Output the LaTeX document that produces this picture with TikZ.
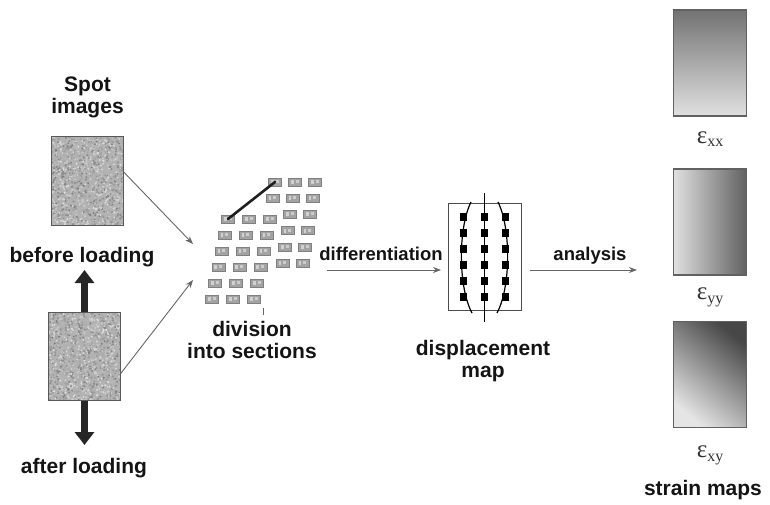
\documentclass[tikz,border=0pt]{standalone}
\usepackage{fontspec}
\setmainfont{Liberation Sans}
\newfontfamily\epsfont{Liberation Serif}
\usetikzlibrary{arrows.meta}

% strain component label: serif epsilon with a lowered index
\newcommand{\straincomp}[1]{{\epsfont\fontsize{25}{27}\selectfont ε\raisebox{-0.32ex}{\fontsize{16}{18}\selectfont #1}}}

\begin{document}
\begin{tikzpicture}[x=1pt,y=-1pt,
  lbl/.style={font=\bfseries\fontsize{21}{22}\selectfont, align=center, inner sep=0pt, text=black!92},
  arrlbl/.style={font=\bfseries\fontsize{18.5}{20}\selectfont, inner sep=0pt, text=black!92},
  spotbox/.style={fill=black!30, minimum width=72pt, minimum height=88pt, inner sep=0pt},
  spotframe/.style={draw=black!65, line width=1.2pt},
  thinarrow/.style={draw=black!60, line width=0.9pt, -{Stealth[length=8pt,width=6pt]}},
  loadarrow/.style={draw=black!85, line width=7pt, -{Triangle[length=13pt,width=19pt]}},
  cell/.style={fill=black!36, draw=black!50, line width=0.5pt, minimum width=13pt, minimum height=8pt, inner sep=0pt,
    path picture={
      \fill[black!18] ([xshift=2.5pt,yshift=-2pt]path picture bounding box.north west) rectangle ++(2.5pt,-4pt);
      \fill[black!20] ([xshift=7pt,yshift=-2pt]path picture bounding box.north west) rectangle ++(3pt,-3pt);
    }},
  dmark/.style={fill=black, minimum size=7.5pt, inner sep=0pt},
  strainbox/.style={draw=black!62, line width=1.5pt, minimum width=73pt, minimum height=106pt, inner sep=0pt},
  eps/.style={inner sep=0pt, text=black!80}
]
\useasboundingbox (0,0) rectangle (770,505);
\pgfmathsetseed{4242}

% ---------- spot images ----------
\node[lbl] (title) at (87.5,97) {Spot\\images};

\node[spotbox] (spot1) at (87.5,181) {};
\node[spotbox] (spot2) at (84.5,356.5) {};

\foreach \bx/\by in {51.5/137, 48.5/312.5}{
  \begin{scope}
    \clip (\bx,\by) rectangle ++(72,88);
    \foreach \i in {1,...,1300}{
      \pgfmathtruncatemacro{\gl}{12+40*rnd}
      \fill[black!\gl] ({\bx+72*rnd},{\by+88*rnd}) circle (1.05);
    }
  \end{scope}
}
\draw[spotframe] (spot1.south west) rectangle (spot1.north east);
\draw[spotframe] (spot2.south west) rectangle (spot2.north east);

\node[lbl] (before) at (82,257) {before loading};
\node[lbl] (after) at (84,468) {after loading};

% loading direction
\coordinate (uptip) at (84.5,270);
\coordinate (downtip) at (84.5,445);
\draw[loadarrow] (spot2.north) -- (uptip);
\draw[loadarrow] (spot2.south) -- (downtip);

% ---------- division into sections ----------
% back grid
\foreach \r in {0,...,5}{
  \foreach \c in {0,1,2}{
    \ifnum\r>1 \ifnum\c=0 \else
      \node[cell] (R\r\c) at ({275-2.5*\r+20*\c},{182+16.2*\r}) {};
    \fi \else
      \node[cell] (R\r\c) at ({275-2.5*\r+20*\c},{182+16.2*\r}) {};
    \fi
  }
}
% front grid
\foreach \r in {0,...,5}{
  \foreach \c in {0,1,2}{
    \node[cell] (L\r\c) at ({228-3.2*\r+21*\c},{219+16*\r}) {};
  }
}
\draw[line width=2.6pt, black!88, line cap=round] (L00.center) -- (R00.center);
\draw[black!60, line width=0.6pt] (263,308) -- (263,315);

\coordinate (gin1) at (193,244);
\coordinate (gin2) at (193,280);
\draw[thinarrow] ([yshift=9pt]spot1.east) -- (gin1);
\draw[thinarrow] ([yshift=-17pt]spot2.east) -- (gin2);

\node[lbl] (division) at (252,340) {division\\into sections};

% ---------- displacement map ----------
\node[draw=black!70, line width=1pt, minimum width=73pt, minimum height=107pt, inner sep=0pt] (dmap) at (484.5,256.5) {};
\draw[line width=1.4pt] (484.5,193) -- (484.5,322);
\draw[line width=1.2pt] (471,202) .. controls (458,228) and (458,287) .. (472,313);
\draw[line width=1.2pt] (498,202) .. controls (511,228) and (511,287) .. (497,313);
\foreach \yy in {217,233,249,265,281,297}{
  \foreach \xx in {463.5,484.5,505.5}{
    \node[dmark] at (\xx,\yy) {};
  }
}
\node[lbl] (dlabel) at (483,361) {displacement\\map};

\coordinate (dstart) at (327,270);
\coordinate (dend) at (441,270);
\draw[thinarrow] (dstart) -- (dend);
\node[arrlbl] (difflbl) at (381,254) {differentiation};

\coordinate (astart) at (530,270);
\coordinate (aend) at (637,270);
\draw[thinarrow] (astart) -- (aend);
\node[arrlbl] (analbl) at (590,256) {analysis};

% ---------- strain maps ----------
\node[strainbox, top color=black!55, bottom color=black!12] (sxx) at (710,63) {};
\node[strainbox, left color=black!12, right color=black!62] (syy) at (710,222) {};
\node[strainbox, top color=black!72, bottom color=black!10, shading angle=-40] (sxy) at (710,374.5) {};

\node[eps] (lxx) at (710,139) {\straincomp{xx}};
\node[eps] (lyy) at (710,297) {\straincomp{yy}};
\node[eps] (lxy) at (710,455) {\straincomp{xy}};
\node[lbl] (strain) at (703,490) {strain maps};
\end{tikzpicture}
\end{document}
